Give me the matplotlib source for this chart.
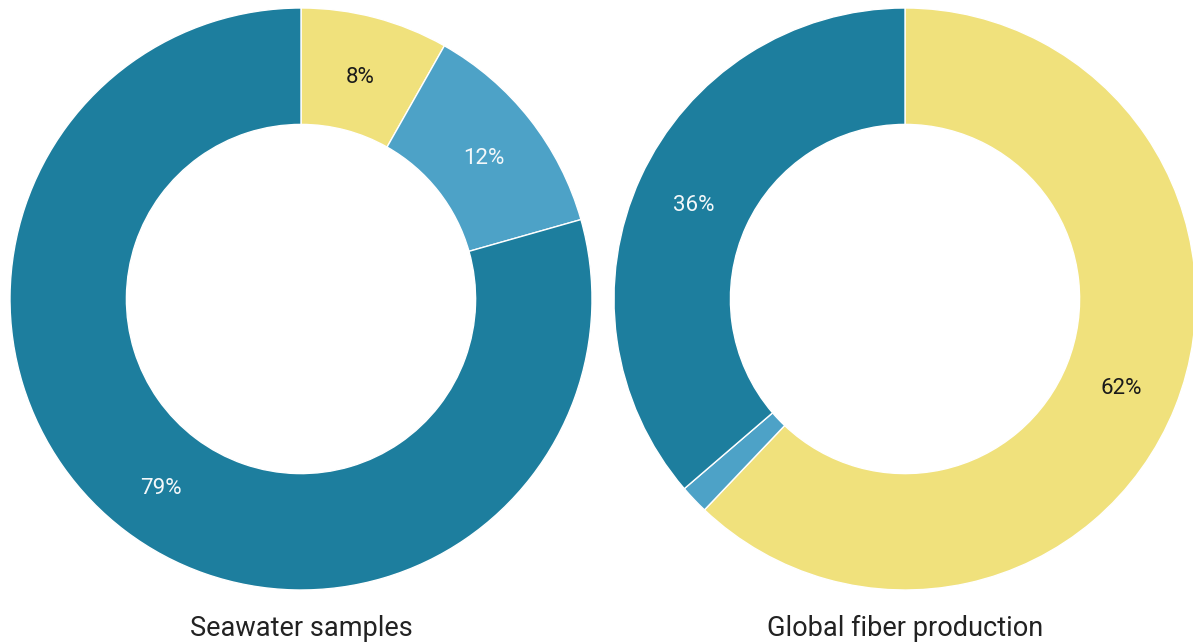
import matplotlib
matplotlib.use("Agg")
import matplotlib.pyplot as plt
import numpy as np

plt.rcParams['font.family'] = ['Roboto', 'DejaVu Sans']

# Data
left_title = "Seawater samples"
left_values = [8.2, 12.4, 79.4]
left_labels = ["8%", "12%", "79%"]

right_title = "Global fiber production"
right_values = [62.1, 1.6, 36.3]
right_labels = ["62%", "", "36%"]

colors = ["#F0E17C", "#4DA2C7", "#1D7E9E"]
label_colors = ["#1a1a1a", "#F4F8FA", "#F4F8FA"]

W, H = 1193, 644
fig = plt.figure(figsize=(W / 100, H / 100), dpi=100)
fig.patch.set_facecolor("white")

R = 291
cy = 299


def donut(cx, values, labels, title):
    ax = fig.add_axes([(cx - R) / W, (H - cy - R) / H, 2 * R / W, 2 * R / H])
    wedges, _ = ax.pie(values, startangle=90, counterclock=False, colors=colors,
                       radius=1.0,
                       wedgeprops=dict(width=0.4, edgecolor="white", linewidth=1.0))
    for w, lab, tc in zip(wedges, labels, label_colors):
        if not lab:
            continue
        ang = np.deg2rad((w.theta1 + w.theta2) / 2)
        ax.text(0.8 * np.cos(ang), 0.8 * np.sin(ang) - 0.012, lab, ha="center",
                va="center", color=tc, fontsize=16)
    ax.set_xlim(-1, 1)
    ax.set_ylim(-1, 1)
    ax.set_aspect("equal")
    ax.axis("off")
    fig.text(cx / W, 1 - 628 / H, title, ha="center", va="center", fontsize=19.5,
             color="#222222")


donut(301, left_values, left_labels, left_title)
donut(905, right_values, right_labels, right_title)

fig.savefig("out.png", dpi=100, facecolor="white")
